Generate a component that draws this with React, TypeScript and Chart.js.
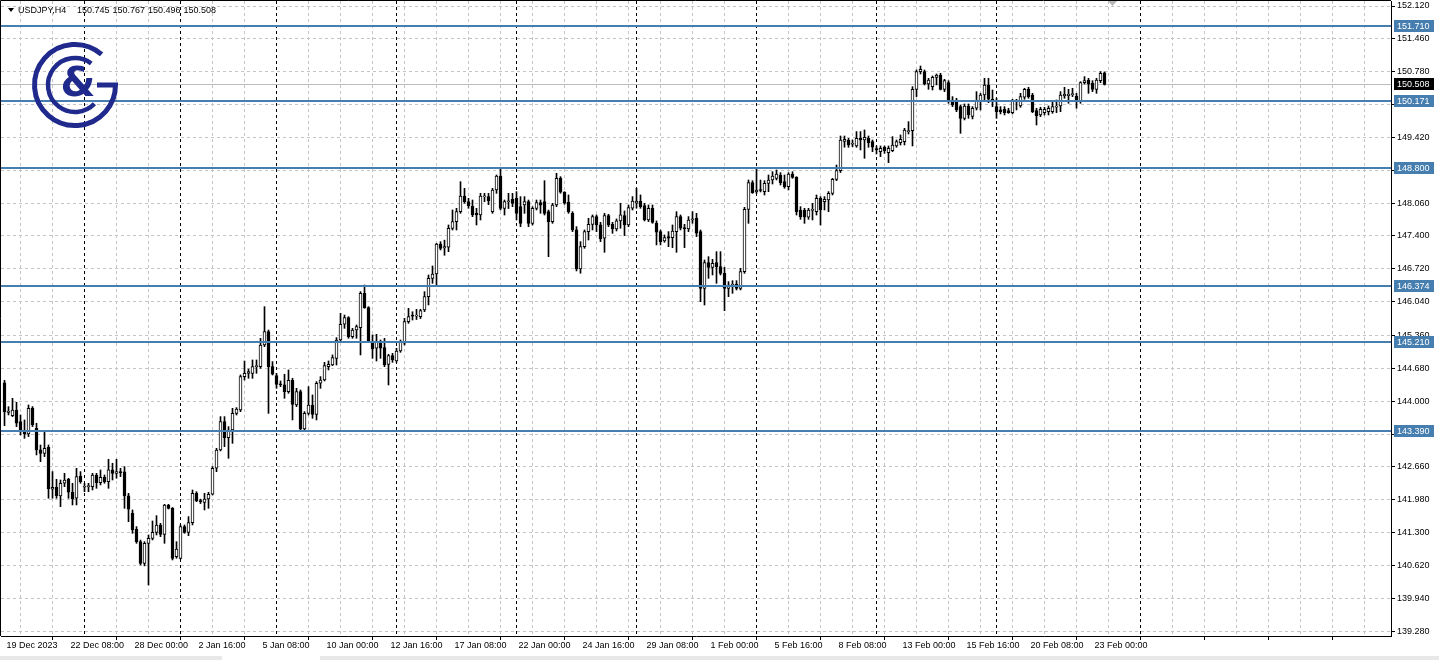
import React, { useEffect, useRef } from "react";
import { Chart, registerables } from "chart.js";

Chart.register(...registerables);

// ---- DATA (USDJPY H4) ----
const opens = [
  144.380, 143.770, 143.706, 143.822, 143.583, 143.391, 143.329, 143.857, 143.446, 143.001,
  142.932, 143.056, 142.193, 142.234, 142.056, 142.316, 142.398, 142.131, 142.008, 142.466,
  142.234, 142.247, 142.247, 142.487, 142.330, 142.439, 142.350, 142.590, 142.521, 142.556,
  142.549, 142.056, 141.700, 141.371, 141.117, 140.672, 141.083, 141.186, 141.309, 141.460,
  141.268, 141.870, 141.802, 140.809, 140.775, 141.425, 141.309, 141.507, 142.110, 141.952,
  141.925, 141.994, 142.090, 142.624, 143.000, 143.582, 143.254, 143.411, 143.753, 143.822,
  144.506, 144.575, 144.575, 144.712, 144.712, 145.157, 145.431, 144.712, 144.527, 144.349,
  144.336, 144.199, 144.431, 143.925, 144.199, 143.432, 143.753, 143.925, 143.733, 144.370,
  144.438, 144.712, 144.746, 144.883, 145.260, 145.582, 145.719, 145.328, 145.465, 145.513,
  146.218, 145.924, 145.239, 145.089, 145.226, 145.103, 144.760, 144.938, 144.829, 145.034,
  145.192, 145.636, 145.760, 145.750, 145.740, 145.876, 146.150, 146.526, 146.615, 147.232,
  147.150, 147.164, 147.553, 147.690, 147.896, 148.218, 148.101, 148.012, 147.860, 147.827,
  148.200, 148.204, 147.896, 148.341, 148.628, 147.964, 148.100, 148.149, 148.170, 147.998,
  148.033, 148.101, 147.656, 147.964, 148.080, 148.101, 147.896, 147.690, 148.033, 148.581,
  148.294, 148.088, 147.862, 147.520, 146.719, 147.178, 147.486, 147.636, 147.794, 147.623,
  147.349, 147.814, 147.636, 147.540, 147.705, 147.814, 147.622, 147.965, 148.070, 148.115,
  148.020, 147.725, 147.965, 147.657, 147.486, 147.294, 147.383, 147.363, 147.486, 147.794,
  147.568, 147.540, 147.725, 147.759, 147.485, 146.321, 146.848, 146.752, 146.848, 146.766,
  146.629, 146.321, 146.380, 146.410, 146.321, 146.663, 147.944, 148.491, 148.300, 148.340,
  148.306, 148.478, 148.546, 148.580, 148.649, 148.512, 148.409, 148.669, 148.601, 147.930,
  147.930, 147.780, 147.920, 147.896, 148.170, 148.101, 148.135, 148.272, 148.560, 148.740,
  149.340, 149.368, 149.280, 149.245, 149.402, 149.368, 149.402, 149.334, 149.180, 149.129,
  149.218, 149.108, 149.149, 149.245, 149.313, 149.334, 149.540, 149.560, 150.409, 150.772,
  150.772, 150.519, 150.464, 150.655, 150.703, 150.409, 150.546, 150.190, 150.190, 150.053,
  149.813, 150.067, 149.850, 150.019, 150.176, 150.293, 150.498, 150.204, 150.053, 149.985,
  150.000, 149.970, 149.930, 150.150, 150.067, 150.245, 150.409, 150.293, 149.970, 149.882,
  149.930, 149.950, 149.950, 150.040, 150.067, 150.272, 150.280, 150.300, 150.272, 150.156,
  150.546, 150.600, 150.533, 150.409, 150.587, 150.745,
];

const highs = [
  144.430, 143.890, 144.062, 143.980, 143.720, 143.617, 143.925, 143.891, 143.549, 143.103,
  143.377, 143.103, 142.556, 142.398, 142.384, 142.521, 142.419, 142.316, 142.624, 142.556,
  142.316, 142.316, 142.521, 142.521, 142.590, 142.487, 142.809, 142.727, 142.809, 142.624,
  142.658, 142.110, 141.768, 141.426, 141.150, 141.117, 141.254, 141.542, 141.651, 141.494,
  141.884, 141.884, 141.820, 141.117, 141.460, 141.460, 141.631, 142.178, 142.144, 141.990,
  142.110, 142.131, 142.658, 143.034, 143.685, 143.685, 143.479, 143.856, 143.870, 144.541,
  144.828, 144.664, 144.849, 144.849, 145.294, 145.944, 145.465, 144.815, 144.575, 144.418,
  144.555, 144.644, 144.473, 144.267, 144.233, 143.788, 144.301, 144.130, 144.404, 144.507,
  144.801, 144.829, 144.952, 145.308, 145.808, 145.773, 145.739, 145.499, 145.568, 146.253,
  146.389, 145.945, 145.363, 145.376, 145.260, 145.294, 144.966, 144.986, 145.089, 145.260,
  145.705, 145.910, 145.840, 145.890, 145.890, 146.252, 146.595, 146.780, 147.245, 147.279,
  147.310, 147.622, 147.930, 147.964, 148.512, 148.375, 148.170, 148.135, 147.964, 148.272,
  148.272, 148.272, 148.375, 148.649, 148.786, 148.135, 148.272, 148.272, 148.307, 148.204,
  148.204, 148.135, 147.998, 148.135, 148.135, 148.532, 147.930, 148.067, 148.683, 148.615,
  148.307, 148.239, 147.896, 147.588, 147.280, 147.520, 147.759, 147.828, 147.828, 147.677,
  147.862, 147.842, 147.677, 147.746, 148.068, 147.910, 148.033, 148.205, 148.376, 148.239,
  148.068, 148.033, 148.033, 147.705, 147.520, 147.417, 147.486, 147.623, 147.896, 147.828,
  147.636, 147.794, 147.896, 147.862, 147.519, 146.903, 146.971, 146.917, 147.074, 147.074,
  146.752, 146.458, 146.478, 146.478, 146.732, 147.985, 148.546, 148.532, 148.800, 148.546,
  148.532, 148.649, 148.717, 148.752, 148.697, 148.649, 148.697, 148.717, 148.615, 147.998,
  147.964, 147.964, 148.067, 148.238, 148.204, 148.204, 148.307, 148.580, 148.854, 149.450,
  149.450, 149.402, 149.368, 149.540, 149.540, 149.574, 149.450, 149.368, 149.245, 149.245,
  149.245, 149.245, 149.437, 149.368, 149.471, 149.608, 149.745, 150.464, 150.806, 150.888,
  150.806, 150.635, 150.683, 150.724, 150.738, 150.614, 150.587, 150.259, 150.224, 150.087,
  150.108, 150.108, 150.053, 150.361, 150.327, 150.635, 150.635, 150.395, 150.224, 150.053,
  150.053, 150.019, 150.204, 150.204, 150.327, 150.430, 150.450, 150.327, 150.019, 150.040,
  150.040, 150.067, 150.156, 150.190, 150.361, 150.450, 150.409, 150.430, 150.327, 150.566,
  150.669, 150.635, 150.587, 150.635, 150.772, 150.767,
];

const lows = [
  143.500, 143.720, 143.685, 143.480, 143.309, 143.240, 143.275, 143.480, 142.898, 142.761,
  142.864, 142.008, 142.008, 142.008, 141.836, 142.247, 142.008, 141.871, 141.871, 142.316,
  142.144, 142.144, 142.179, 142.213, 142.282, 142.316, 142.213, 142.384, 142.419, 142.453,
  141.802, 141.528, 141.289, 141.083, 140.638, 140.620, 140.227, 141.152, 141.254, 141.220,
  141.083, 141.788, 140.741, 140.775, 140.761, 141.288, 141.240, 141.460, 141.939, 141.900,
  141.768, 141.802, 142.076, 142.555, 142.980, 143.069, 142.829, 143.137, 143.719, 143.788,
  144.438, 144.472, 144.472, 144.575, 144.678, 145.123, 143.753, 144.540, 144.267, 144.301,
  144.062, 144.165, 143.617, 143.891, 143.411, 143.377, 143.719, 143.651, 143.617, 144.267,
  144.418, 144.644, 144.733, 144.746, 145.239, 145.499, 145.294, 145.294, 145.294, 144.952,
  145.910, 145.226, 144.883, 144.828, 144.883, 144.712, 144.336, 144.801, 144.801, 145.007,
  145.157, 145.602, 145.670, 145.680, 145.700, 145.842, 145.979, 146.424, 146.355, 147.108,
  147.000, 147.074, 147.519, 147.519, 147.862, 148.067, 147.964, 147.793, 147.622, 147.725,
  148.100, 148.040, 147.862, 148.272, 147.930, 147.827, 147.960, 147.998, 147.725, 147.588,
  147.862, 147.588, 147.622, 147.930, 147.862, 147.827, 146.971, 147.656, 147.998, 148.273,
  148.047, 147.862, 147.486, 146.678, 146.630, 147.143, 147.314, 147.520, 147.486, 147.280,
  147.061, 147.588, 147.451, 147.499, 147.554, 147.404, 147.588, 147.930, 147.965, 147.965,
  147.705, 147.691, 147.657, 147.212, 147.212, 147.267, 147.177, 147.157, 147.061, 147.520,
  147.157, 147.486, 147.657, 147.383, 146.047, 145.979, 146.526, 146.595, 146.424, 146.595,
  145.862, 146.150, 146.218, 146.287, 146.287, 146.629, 147.656, 148.272, 148.270, 148.300,
  148.238, 148.306, 148.464, 148.546, 148.443, 148.375, 148.341, 148.580, 147.827, 147.738,
  147.656, 147.738, 147.725, 147.827, 147.622, 147.930, 147.896, 148.238, 148.532, 148.700,
  149.220, 149.218, 149.230, 149.218, 149.163, 148.992, 149.218, 149.129, 149.081, 149.026,
  149.094, 148.903, 149.129, 149.218, 149.265, 149.265, 149.490, 149.245, 150.259, 150.724,
  150.498, 150.409, 150.395, 150.500, 150.395, 150.361, 150.122, 150.053, 149.950, 149.505,
  149.780, 149.813, 149.800, 149.984, 149.984, 150.156, 150.135, 150.053, 149.813, 149.903,
  149.882, 149.916, 149.903, 149.985, 150.040, 150.204, 150.224, 149.930, 149.676, 149.848,
  149.882, 149.882, 149.916, 149.930, 149.950, 150.224, 150.122, 150.259, 150.019, 150.122,
  150.519, 150.327, 150.361, 150.327, 150.546, 150.496,
];

const closes = [
  143.780, 143.800, 143.822, 143.549, 143.377, 143.329, 143.857, 143.514, 143.001, 142.932,
  143.035, 142.200, 142.234, 142.063, 142.316, 142.384, 142.131, 141.994, 142.453, 142.350,
  142.240, 142.250, 142.487, 142.330, 142.439, 142.350, 142.590, 142.521, 142.556, 142.535,
  142.056, 141.782, 141.357, 141.117, 140.672, 141.083, 141.186, 141.309, 141.460, 141.268,
  141.870, 141.802, 140.775, 140.966, 141.425, 141.309, 141.507, 142.110, 141.952, 141.940,
  141.994, 142.090, 142.624, 143.000, 143.582, 143.254, 143.411, 143.753, 143.842, 144.506,
  144.575, 144.609, 144.712, 144.726, 145.157, 145.431, 144.712, 144.555, 144.349, 144.340,
  144.199, 144.431, 143.938, 144.199, 143.432, 143.753, 143.925, 143.733, 144.370, 144.438,
  144.733, 144.760, 144.897, 145.260, 145.582, 145.719, 145.328, 145.465, 145.534, 146.218,
  145.924, 145.239, 145.075, 145.239, 145.089, 144.746, 144.938, 144.849, 145.034, 145.226,
  145.636, 145.739, 145.750, 145.770, 145.862, 146.150, 146.526, 146.615, 147.232, 147.143,
  147.180, 147.553, 147.690, 147.896, 148.218, 148.101, 148.012, 147.827, 147.830, 148.218,
  148.220, 148.122, 148.341, 148.628, 147.964, 148.101, 148.120, 148.067, 147.862, 147.656,
  148.101, 147.656, 147.964, 148.080, 148.030, 147.862, 147.690, 148.033, 148.580, 148.294,
  148.068, 147.896, 147.520, 146.719, 147.178, 147.486, 147.636, 147.794, 147.623, 147.335,
  147.814, 147.622, 147.540, 147.705, 147.828, 147.622, 147.979, 148.115, 148.115, 148.000,
  147.725, 147.965, 147.677, 147.472, 147.280, 147.363, 147.349, 147.499, 147.794, 147.554,
  147.540, 147.725, 147.746, 147.452, 146.321, 146.848, 146.752, 146.834, 146.766, 146.629,
  146.321, 146.389, 146.410, 146.321, 146.663, 147.944, 148.491, 148.286, 148.340, 148.330,
  148.478, 148.546, 148.628, 148.669, 148.491, 148.409, 148.669, 148.601, 147.896, 147.793,
  147.780, 147.930, 147.944, 148.170, 147.930, 148.149, 148.272, 148.560, 148.738, 149.368,
  149.380, 149.265, 149.300, 149.402, 149.368, 149.423, 149.313, 149.218, 149.170, 149.197,
  149.149, 149.197, 149.265, 149.334, 149.382, 149.574, 149.560, 150.409, 150.772, 150.820,
  150.519, 150.600, 150.655, 150.703, 150.409, 150.587, 150.156, 150.087, 149.984, 149.813,
  150.067, 149.882, 150.019, 150.176, 150.293, 150.498, 150.204, 150.156, 149.950, 149.950,
  149.930, 149.930, 150.176, 150.176, 150.259, 150.409, 150.259, 149.950, 149.861, 149.998,
  149.998, 150.019, 150.053, 150.067, 150.293, 150.313, 150.310, 150.320, 150.156, 150.546,
  150.587, 150.519, 150.409, 150.600, 150.738, 150.508,
];

// time labels, one every 16 bars starting at bar 0
const xTickLabels = [
  "19 Dec 2023", "22 Dec 08:00", "28 Dec 00:00", "2 Jan 16:00", "5 Jan 08:00",
  "10 Jan 00:00", "12 Jan 16:00", "17 Jan 08:00", "22 Jan 00:00", "24 Jan 16:00",
  "29 Jan 08:00", "1 Feb 00:00", "5 Feb 16:00", "8 Feb 08:00", "13 Feb 00:00",
  "15 Feb 16:00", "20 Feb 08:00", "23 Feb 00:00",
];

const yTickValues = [
  152.12, 151.46, 150.78, 150.1, 149.42, 148.74, 148.06, 147.4, 146.72, 146.04,
  145.36, 144.68, 144.0, 143.32, 142.66, 141.98, 141.3, 140.62, 139.94, 139.28,
];

const levelValues = [151.71, 150.171, 148.8, 146.374, 145.21, 143.39];
const bidValue = 150.508;
const separatorBars = [20, 44, 68, 98, 128, 158, 188, 218, 248, 284];
const headerSymbol = "USDJPY,H4";
const headerOHLC = ["150.745", "150.767", "150.496", "150.508"];

const FONT = '"Liberation Sans", Arial, sans-serif';
const LEVEL_COLOR = "rgb(70,126,176)";
const GRID_COLOR = "#c4c4c4";
const LOGO_COLOR = "#1f2a8c";

export default function App() {
  const canvasRef = useRef<HTMLCanvasElement | null>(null);

  useEffect(() => {
    document.body.style.margin = "0";
    const canvas = canvasRef.current;
    if (!canvas) return;

    const bodies = opens.map((o, i) => ({ x: i, y: [o, closes[i]] }));
    const wicks = opens.map((_, i) => ({ x: i, y: [lows[i], highs[i]] }));
    const bodyColors = opens.map((o, i) => (closes[i] >= o ? "#ffffff" : "#000000"));
    const gridBars: number[] = [];
    for (let v = 0; v <= 344; v += 8) gridBars.push(v);

    const overlay = {
      id: "overlay",
      beforeDatasetsDraw(chart: any) {
        const { ctx, chartArea: a, scales } = chart;
        const x = scales.x, y = scales.y;
        ctx.save();
        const by = Math.floor(y.getPixelForValue(bidValue)) + 0.5;
        ctx.strokeStyle = "#bdbdbd";
        ctx.lineWidth = 1;
        ctx.beginPath();
        ctx.moveTo(a.left, by);
        ctx.lineTo(a.right, by);
        ctx.stroke();
        ctx.strokeStyle = "#000";
        ctx.setLineDash([3, 3]);
        separatorBars.forEach((b) => {
          const px = Math.floor(x.getPixelForValue(b)) + 0.5;
          ctx.beginPath();
          ctx.moveTo(px, a.top);
          ctx.lineTo(px, a.bottom);
          ctx.stroke();
        });
        ctx.restore();
      },
      afterDatasetsDraw(chart: any) {
        const { ctx, chartArea: a, scales } = chart;
        const y = scales.y;
        ctx.save();
        ctx.strokeStyle = LEVEL_COLOR;
        ctx.lineWidth = 2;
        levelValues.forEach((v) => {
          const py = Math.round(y.getPixelForValue(v));
          ctx.beginPath();
          ctx.moveTo(a.left, py);
          ctx.lineTo(a.right, py);
          ctx.stroke();
        });
        ctx.strokeStyle = "#000";
        ctx.lineWidth = 1;
        ctx.beginPath();
        ctx.moveTo(a.left - 0.5, a.bottom);
        ctx.lineTo(a.left - 0.5, a.top - 0.5);
        ctx.lineTo(a.right, a.top - 0.5);
        ctx.stroke();
        ctx.restore();
      },
      afterDraw(chart: any) {
        const { ctx, scales } = chart;
        const y = scales.y;
        ctx.save();
        ctx.font = `9px ${FONT}`;
        ctx.textBaseline = "middle";
        ctx.textAlign = "left";
        levelValues.forEach((v) => {
          const py = Math.round(y.getPixelForValue(v));
          ctx.fillStyle = LEVEL_COLOR;
          ctx.fillRect(1394, py - 6, 40, 12);
          ctx.fillStyle = "#ffffff";
          ctx.fillText(v.toFixed(3), 1397, py + 0.5);
        });
        const bpy = Math.round(y.getPixelForValue(bidValue));
        ctx.fillStyle = "#000";
        ctx.fillRect(1394, bpy - 6, 40, 12);
        ctx.fillStyle = "#fff";
        ctx.fillText(bidValue.toFixed(3), 1397, bpy + 0.5);

        // header
        ctx.fillStyle = "#000";
        ctx.beginPath();
        ctx.moveTo(8, 8);
        ctx.lineTo(14, 8);
        ctx.lineTo(11, 12);
        ctx.closePath();
        ctx.fill();
        ctx.fillText(headerSymbol, 18, 10.5);
        headerOHLC.forEach((t, k) => ctx.fillText(t, 77 + k * 35.5, 10.5));

        // chart shift marker
        ctx.fillStyle = "#b8b8b8";
        ctx.beginPath();
        ctx.moveTo(1108, 1);
        ctx.lineTo(1117, 1);
        ctx.lineTo(1112.5, 6);
        ctx.closePath();
        ctx.fill();

        // logo
        const cx = 75, cy = 85;
        ctx.strokeStyle = LOGO_COLOR;
        ctx.lineCap = "butt";
        ctx.lineWidth = 5;
        ctx.beginPath();
        ctx.arc(cx, cy, 40.5, (-49 * Math.PI) / 180, 0, true);
        ctx.lineTo(97, cy);
        ctx.stroke();
        ctx.lineWidth = 4.5;
        ctx.beginPath();
        ctx.arc(cx, cy, 27, (-53 * Math.PI) / 180, (44 * Math.PI) / 180, true);
        ctx.stroke();
        ctx.fillStyle = LOGO_COLOR;
        ctx.font = 'bold 40px "DejaVu Sans", sans-serif';
        ctx.textAlign = "center";
        ctx.textBaseline = "middle";
        ctx.fillText("&", 78, 86);

        // bottom tab strip
        ctx.fillStyle = "#e8e8e8";
        ctx.fillRect(0, 656, 1439, 4);
        ctx.fillStyle = "#ffffff";
        ctx.fillRect(222, 656, 98, 4);
        ctx.restore();
      },
    };

    const chart = new Chart(canvas, {
      type: "bar",
      data: {
        datasets: [
          {
            label: "body",
            data: bodies as any,
            backgroundColor: bodyColors,
            borderColor: "#000000",
            borderWidth: 1,
            borderSkipped: false,
            barThickness: 3,
            minBarLength: 1,
            grouped: false,
            order: 0,
          } as any,
          {
            label: "wick",
            data: wicks as any,
            backgroundColor: "#000000",
            borderWidth: 0,
            barThickness: 1,
            grouped: false,
            order: 1,
          } as any,
        ],
      },
      options: {
        animation: false,
        responsive: false,
        events: [],
        layout: { padding: { left: 1, top: 1, right: 0, bottom: 0 } },
        plugins: { legend: { display: false }, tooltip: { enabled: false } },
        scales: {
          x: {
            type: "linear",
            min: -0.875,
            max: 346.625,
            offset: false,
            afterFit: (s: any) => {
              s.height = 24;
              s.paddingLeft = 0;
              s.paddingRight = 0;
            },
            afterBuildTicks: (s: any) => {
              s.ticks = gridBars.map((v) => ({ value: v }));
            },
            ticks: {
              autoSkip: false,
              maxRotation: 0,
              minRotation: 0,
              align: "start",
              labelOffset: 2,
              padding: 0,
              color: "#000",
              font: { family: FONT, size: 9 },
              callback: (v: any) => {
                const n = Number(v);
                if (n % 16 !== 0) return "";
                return xTickLabels[n / 16] ?? "";
              },
            },
            grid: {
              color: GRID_COLOR,
              lineWidth: 1,
              tickLength: 4,
              tickColor: (c: any) =>
                c.tick && Number(c.tick.value) % 16 === 0 ? "#000" : "rgba(0,0,0,0)",
              tickBorderDash: [],
            },
            border: { display: true, color: "#000", width: 1, dash: [3, 3] },
          } as any,
          y: {
            type: "linear",
            position: "right",
            min: 139.179,
            max: 152.223,
            afterFit: (s: any) => {
              s.width = 48;
              s.paddingTop = 0;
              s.paddingBottom = 0;
            },
            afterBuildTicks: (s: any) => {
              s.ticks = yTickValues.map((v) => ({ value: v }));
            },
            ticks: {
              autoSkip: false,
              padding: 2,
              color: "#000",
              font: { family: FONT, size: 9 },
              callback: (v: any) => Number(v).toFixed(3),
            },
            grid: {
              color: GRID_COLOR,
              lineWidth: 1,
              tickLength: 4,
              tickColor: "#000",
              tickBorderDash: [],
            },
            border: { display: true, color: "#000", width: 1, dash: [3, 3] },
          } as any,
        },
      },
      plugins: [overlay],
    });

    return () => chart.destroy();
  }, []);

  return (
    <div style={{ position: "absolute", left: 0, top: 0, width: 1439, height: 660, background: "#fff" }}>
      <canvas ref={canvasRef} width={1439} height={660} style={{ width: 1439, height: 660, display: "block" }} />
    </div>
  );
}
